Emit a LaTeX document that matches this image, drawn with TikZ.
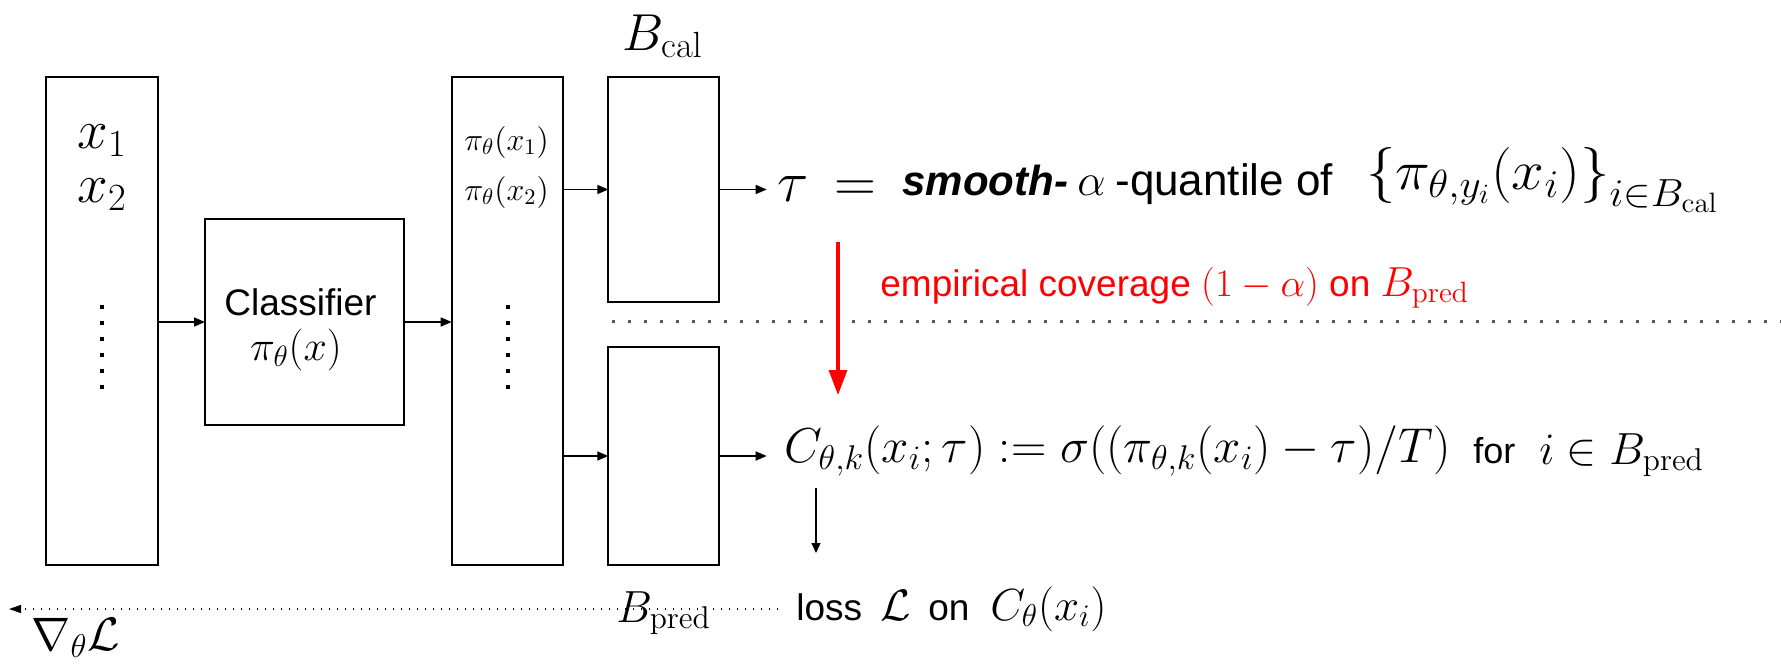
\RequirePackage{fix-cm}
\documentclass[tikz,border=0pt]{standalone}
\usepackage{amsmath}
\usepackage{graphicx}
\usepackage[no-math]{fontspec}
\setsansfont{Liberation Sans}
\usetikzlibrary{arrows.meta}
\newcommand\myfs[1]{\fontsize{#1}{#1}\selectfont}
\newsavebox\mycdefbox
\definecolor{dotgray}{HTML}{5A5A5A}
\begin{document}
\sbox\mycdefbox{\myfs{24.5}$C_{\theta,k}(x_i;\tau) := \sigma((\pi_{\theta,k}(x_i)-\tau)/T)$}%
\begin{tikzpicture}[x=0.5pt,y=-0.5pt,
  box/.style={draw, line width=1pt, inner sep=0pt, outer sep=0pt},
  txt/.style={inner sep=0pt, anchor=base west},
  arr/.style={-{Triangle[length=5.5pt,width=4.5pt]}, line width=0.8pt},
  redarr/.style={-{Triangle[length=12.5pt,width=9pt]}, line width=1.65pt, red},
  thinarr/.style={-{Triangle[length=5pt,width=4.5pt]}, line width=0.6pt},
  backarr/.style={-{Triangle[length=6pt,width=4pt]}, line width=0.6pt, dash pattern=on 0.6pt off 3.4pt},
  graydots/.style={line width=1.7pt, dotgray, dash pattern=on 1.7pt off 6.3pt}]
\useasboundingbox (0,0) rectangle (1781,664);

% boxes
\node[box, minimum width=56pt, minimum height=244pt] (box1) at (101.7,321.3) {};
\node[box, minimum width=99.65pt, minimum height=102.7pt] (clf) at (304.65,322) {};
\node[box, minimum width=55.8pt, minimum height=244pt] (box3) at (507.5,321.3) {};
\node[box, minimum width=55.5pt, minimum height=112.2pt] (bcal) at (663.8,189.5) {};
\node[box, minimum width=55.5pt, minimum height=109.3pt] (bpred) at (663.8,456) {};

% dots
\foreach \k in {0,...,5} {
  \fill ({99.9},{305.2+16*\k}) rectangle ++(3.6,3.6);
  \fill ({505.9},{305.2+16*\k}) rectangle ++(3.6,3.6);
}

% coordinates for free ends
\coordinate (tauin) at (766.7,189.5);
\coordinate (cin) at (766.7,456);
\coordinate (rtop) at (838,242);
\coordinate (rbot) at (838,395);
\coordinate (dtop) at (816,488);
\coordinate (dbot) at (816,553);
\coordinate (backstart) at (778,609);
\coordinate (backend) at (9,609);
\coordinate (gstart) at (611.7,321.5);
\coordinate (gend) at (1781,321.5);

% connectors
\draw[arr] (box1.east |- clf.west) -- (clf.west);
\draw[arr] (clf.east) -- (clf.east -| box3.west);
\draw[arr] (bcal.west -| box3.east) -- (bcal.west);
\draw[arr] (bpred.west -| box3.east) -- (bpred.west);
\draw[arr] (bcal.east) -- (tauin);
\draw[arr] (bpred.east) -- (cin);
\draw[graydots] (gstart) -- (gend);
\draw[redarr] (rtop) -- (rbot);
\draw[thinarr] (dtop) -- (dbot);
\draw[backarr] (backstart) -- (backend);

% texts
\node[txt] (x1) at (77,148) {\myfs{27.5}$x_1$};
\node[txt] (x2) at (77,202) {\myfs{27.5}$x_2$};
\node[txt] (p1) at (464,150) {\myfs{16}$\pi_\theta(x_1)$};
\node[txt] (p2) at (464,200) {\myfs{16}$\pi_\theta(x_2)$};
\node[inner sep=0pt, anchor=base] (clftxt) at (300.5,315) {\sffamily\myfs{18.5}Classifier};
\node[inner sep=0pt, anchor=base] (clfmath) at (296,360) {\myfs{21}$\pi_\theta(x)$};
\node[txt] (bcallab) at (622,50) {\myfs{26}$B_{\mathrm{cal}}$};

\node[txt] (tau) at (777,201) {\myfs{29}${\tau}\mkern8mu{=}$};
\node[txt] (smooth) at (902,195) {\sffamily\bfseries\itshape\myfs{21}smooth-};
\node[txt] (alpha) at (1077,195) {\myfs{22.5}$\alpha$};
\node[txt] (quant) at (1115,195) {\sffamily\myfs{22}-quantile of};
\node[txt] (set) at (1366,189) {\scalebox{1.05}[1]{\myfs{28}${\{\pi_{\theta,y_i}(x_i)\}}_{i\in B_{\mathrm{cal}}}$}};

\node[txt, text=red] (cov) at (880,296) {\sffamily\myfs{18.5}empirical coverage {\myfs{19.5}$(1-\alpha)$} on {\myfs{21}$B_{\mathrm{pred}}$}};

\node[txt] (cdef) at (784,462) {\usebox\mycdefbox};
\node[txt] (for) at (1473,463) {\sffamily\myfs{18}for};
\node[txt] (inb) at (1539,464) {\myfs{22.5}$i\in B_{\mathrm{pred}}$};

\node[txt] (bpredlab) at (616,622) {\myfs{22.5}$B_{\mathrm{pred}}$};
\node[txt] (loss) at (796,620) {\sffamily\myfs{18.5}loss};
\node[txt] (lossL) at (880,620) {\myfs{22}$\mathcal{L}$};
\node[txt] (losson) at (928,620) {\sffamily\myfs{18.5}on};
\node[txt] (lossC) at (990,620) {\myfs{22.5}$C_\theta(x_i)$};
\node[txt] (grad) at (31,650) {\myfs{23.5}$\nabla_\theta\mathcal{L}$};
\end{tikzpicture}
\end{document}
